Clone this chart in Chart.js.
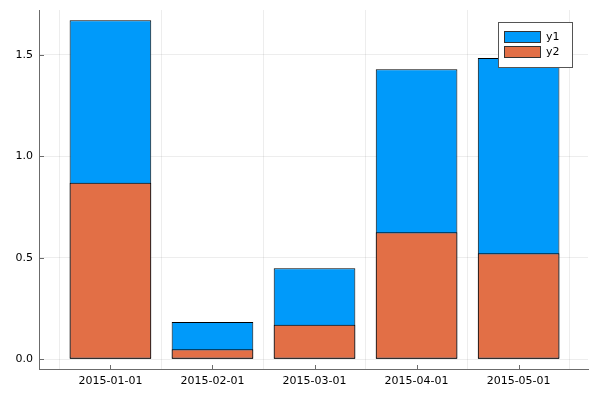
<!DOCTYPE html>
<html><head><meta charset="utf-8">
<script src="https://cdn.jsdelivr.net/npm/chart.js@4"></script>
<style>html,body{margin:0;padding:0;background:#fff}#wrap{width:598px;height:395px}</style>
</head><body><div id="wrap"><canvas id="c"></canvas></div>
<script>
const categories = ["2015-01-01","2015-02-01","2015-03-01","2015-04-01","2015-05-01"];
const y1 = [1.671, 0.184, 0.448, 1.429, 1.484];
const y2 = [0.870, 0.049, 0.170, 0.626, 0.522];
const seriesNames = ["y1","y2"];
const yTicks = [0, 0.5, 1.0, 1.5];
const yTickLabels = ["0.0","0.5","1.0","1.5"];

const FONT = "'DejaVu Sans', sans-serif";
const AXIS = '#6b6b6b';
const BLUE = '#009AFA', ORANGE = '#E26F46';

const insideTicks = {
  id: 'insideTicks',
  afterDraw(chart) {
    const ctx = chart.ctx, a = chart.chartArea, xs = chart.scales.x, ys = chart.scales.y;
    ctx.save();
    ctx.strokeStyle = AXIS; ctx.lineWidth = 1;
    ctx.beginPath();
    yTicks.forEach(v => { const p = Math.round(ys.getPixelForValue(v)) + 0.5; ctx.moveTo(a.left, p); ctx.lineTo(a.left + 5, p); });
    categories.forEach((c, i) => { const p = Math.round(xs.getPixelForValue(i)) + 0.5; ctx.moveTo(p, a.bottom); ctx.lineTo(p, a.bottom - 4); });
    ctx.stroke();
    // legend
    const lx = 498, ly = 22, lw = 74, lh = 45;
    ctx.fillStyle = '#fff'; ctx.fillRect(lx, ly, lw, lh);
    ctx.strokeStyle = '#555'; ctx.strokeRect(lx + 0.5, ly + 0.5, lw, lh);
    chart.data.datasets.forEach((ds, i) => {
      const y = ly + 9 + i * 15;
      ctx.fillStyle = ds.backgroundColor; ctx.fillRect(504, y, 36, 12);
      ctx.strokeStyle = '#333'; ctx.strokeRect(504.5, y + 0.5, 36, 11);
      ctx.fillStyle = '#000'; ctx.font = '11px ' + FONT; ctx.textBaseline = 'middle'; ctx.textAlign = 'left';
      ctx.fillText(ds.label, 546, y + 6);
    });
    ctx.restore();
  }
};

new Chart(document.getElementById('c'), {
  type: 'bar',
  data: {
    datasets: [
      { label: seriesNames[0], data: y1.map((v, i) => ({x: i, y: v})), backgroundColor: BLUE, borderColor: '#000', borderWidth: 1, borderSkipped: false, order: 2, grouped: false },
      { label: seriesNames[1], data: y2.map((v, i) => ({x: i, y: v})), backgroundColor: ORANGE, borderColor: '#000', borderWidth: 1, borderSkipped: false, order: 1, grouped: false }
    ]
  },
  options: {
    responsive: true, maintainAspectRatio: false, animation: false,
    layout: { padding: { top: 10, right: 10, left: 0, bottom: 0 } },
    categoryPercentage: 1, barPercentage: 0.8,
    plugins: { legend: { display: false }, tooltip: { enabled: false } },
    scales: {
      x: {
        type: 'linear', min: -0.70, max: 4.68, offset: false,
        afterBuildTicks: s => { s.ticks = categories.map((c, i) => ({ value: i })); },
        afterFit: s => { s.height = 26; s.paddingLeft = 0; s.paddingRight = 0; },
        ticks: { callback: (v) => categories[v], color: '#000', font: { family: FONT, size: 11 }, padding: 6, maxRotation: 0, autoSkip: false },
        grid: { color: 'rgba(0,0,0,0.07)', drawTicks: false, tickLength: 0 },
        border: { display: true, color: AXIS, width: 1 }
      },
      y: {
        min: -0.048, max: 1.721,
        afterBuildTicks: s => { s.ticks = yTicks.map(v => ({ value: v })); },
        afterFit: s => { s.width = 39; s.paddingTop = 0; s.paddingBottom = 0; },
        ticks: { callback: (v) => yTickLabels[yTicks.indexOf(v)], color: '#000', font: { family: FONT, size: 11 }, padding: 6 },
        grid: { color: 'rgba(0,0,0,0.07)', drawTicks: false, tickLength: 0 },
        border: { display: true, color: AXIS, width: 1 }
      }
    }
  },
  plugins: [insideTicks]
});
</script></body></html>
